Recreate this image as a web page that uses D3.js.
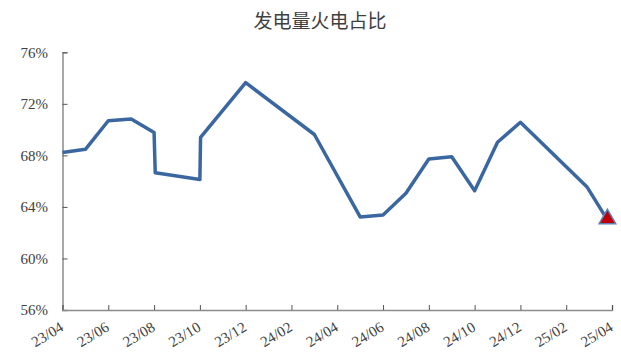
<!DOCTYPE html>
<html>
<head>
<meta charset="utf-8">
<script src="https://cdn.jsdelivr.net/npm/d3@7"></script>
<style>
  body { margin: 0; background: #fff; }
  svg { display: block; }
</style>
</head>
<body>
<svg id="chart" width="621" height="363"></svg>
<script>
'use strict';

// month position counted from 23/04, and thermal share of generation (%)
var monthPos = [0, 1, 2, 3, 4, 4.05, 6, 6.03, 8, 11, 13, 14, 15, 16, 17, 18, 19, 20, 22.9, 23.8];
var thermalShare = [68.22, 68.47, 70.69, 70.82, 69.78, 66.66, 66.13, 69.39, 73.64, 69.62,
  63.22, 63.37, 65.06, 67.72, 67.90, 65.26, 69.02, 70.57, 65.57, 62.99];

// x tick labels, every second month
var tickMonths = [0, 2, 4, 6, 8, 10, 12, 14, 16, 18, 20, 22, 24];
var tickLabels = ['23/04', '23/06', '23/08', '23/10', '23/12', '24/02', '24/04',
  '24/06', '24/08', '24/10', '24/12', '25/02', '25/04'];

var yTicks = [56, 60, 64, 68, 72, 76];

var svg = d3.select('#chart');

var x = d3.scaleLinear().domain([0, 24]).range([62.5, 612]);
var y = d3.scaleLinear().domain([56, 76]).range([310, 52.3]);

var axisColor = '#8c8c8c';
var labelFont = '"Liberation Serif", "Times New Roman", serif';

// title
svg.append('text')
  .attr('x', 320)
  .attr('y', 28)
  .attr('text-anchor', 'middle')
  .style('font-family', '"Noto Sans CJK SC", sans-serif')
  .style('font-size', '19px')
  .style('fill', '#404040')
  .text('发电量火电占比');

/*
 * axes
 */

var yAxis = svg.append('g')
  .attr('transform', 'translate(' + x(0) + ',0)')
  .call(d3.axisRight(y).tickValues(yTicks).tickSize(5).tickFormat(''));

var xAxis = svg.append('g')
  .attr('transform', 'translate(0,' + y(56) + ')')
  .call(d3.axisTop(x).tickValues(tickMonths).tickSize(5).tickFormat(''));

[yAxis, xAxis].forEach(function(g) {
  g.select('.domain').attr('stroke', axisColor).attr('stroke-width', 1.5);
  g.selectAll('.tick line').attr('stroke', '#555').attr('stroke-width', 1);
});
// the 56% tick sits on the x axis, hide it
yAxis.selectAll('.tick').filter(function(d) { return d === 56; }).select('line').remove();

// y tick labels
svg.append('g').selectAll('text')
  .data(yTicks)
  .enter().append('text')
  .attr('x', 48)
  .attr('y', function(d) { return y(d); })
  .attr('dy', '0.35em')
  .attr('text-anchor', 'end')
  .style('font-family', labelFont)
  .style('font-size', '15px')
  .style('fill', '#404040')
  .text(function(d) { return d + '%'; });

// x tick labels, slanted
svg.append('g').selectAll('text')
  .data(tickMonths)
  .enter().append('text')
  .attr('transform', function(d) {
    return 'translate(' + (x(d) + 2) + ',' + 330 + ') rotate(-31)';
  })
  .attr('text-anchor', 'end')
  .style('font-family', labelFont)
  .style('font-size', '15px')
  .style('fill', '#404040')
  .text(function(d, i) { return tickLabels[i]; });

/*
 * series
 */

var points = monthPos.map(function(m, i) { return [m, thermalShare[i]]; });

var line = d3.line()
  .x(function(d) { return x(d[0]); })
  .y(function(d) { return y(d[1]); });

svg.append('path')
  .datum(points)
  .attr('d', line)
  .attr('fill', 'none')
  .attr('stroke', '#3b67a0')
  .attr('stroke-width', 3.5)
  .attr('stroke-linejoin', 'round');

// marker on the latest value
var last = points[points.length - 1];
svg.append('path')
  .attr('d', d3.symbol().type(d3.symbolTriangle).size(120)())
  .attr('transform', 'translate(' + x(last[0]) + ',' + (y(last[1]) - 1) + ')')
  .attr('fill', '#c00000')
  .attr('stroke', '#5b82b8')
  .attr('stroke-width', 1.5);
</script>
</body>
</html>
